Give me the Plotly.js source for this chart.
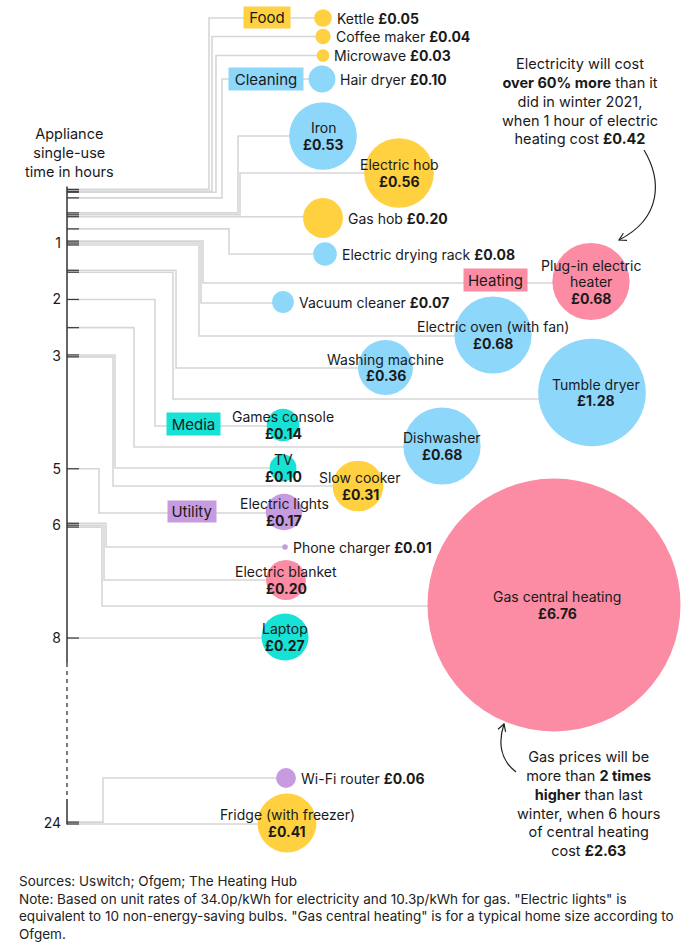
<!DOCTYPE html>
<html><head><meta charset="utf-8">
<script src="https://cdn.plot.ly/plotly-3.0.1.min.js"></script>
<style>html,body{margin:0;padding:0;background:#fff}</style>
</head><body><div id="chart" style="width:700px;height:952px"></div>
<script>
// ---------------- DATA ----------------
const appliances = ["Kettle","Coffee maker","Microwave","Hair dryer","Iron","Electric hob","Gas hob","Electric drying rack","Plug-in electric heater","Vacuum cleaner","Electric oven (with fan)","Washing machine","Tumble dryer","Games console","Dishwasher","TV","Slow cooker","Electric lights","Phone charger","Electric blanket","Gas central heating","Laptop","Wi-Fi router","Fridge (with freezer)"];
const categories = ["Food","Food","Food","Cleaning","Cleaning","Food","Food","Cleaning","Heating","Cleaning","Cleaning","Cleaning","Cleaning","Media","Cleaning","Media","Food","Utility","Utility","Heating","Heating","Media","Utility","Food"];
const hours = [0.05,0.083,0.1,0.2,0.5,0.5,0.5,0.75,1,1,1,1.5,1.5,2,2.5,3,3,5,6,6,6,8,24,24];
const costs = [0.05,0.04,0.03,0.10,0.53,0.56,0.20,0.08,0.68,0.07,0.68,0.36,1.28,0.14,0.68,0.10,0.31,0.17,0.01,0.20,6.76,0.27,0.06,0.41];
const hourTicks = [1,2,3,5,6,8,24];
const hourTickLabels = ["1","2","3","5","6","8","24"];
const categoryNames = ["Food","Cleaning","Heating","Media","Utility"];

// ---------------- LAYOUT / STYLE ----------------
const W = 700, H = 952;
const FONT = 'Inter, "Liberation Sans", Arial, sans-serif';
const TXT = '#1a1a1a';
const catColors = {Food:'#ffd040', Cleaning:'#8dd7fa', Heating:'#fb8ca3', Media:'#17e2d6', Utility:'#c79bdf'};
// bubble placement (packed layout, pixels)
const bubbleX = [323,323,323,322,323,399,323,325,591,283,493,385.5,592,283,442,283,358,284,285,286,554,285,286,287];
const bubbleY = [18,36.5,55.5,79,136,173,218,254,281.5,302,335,367.5,392.5,425,446,468,486,512,547,580,605,637,778,823];
const connectY = [18,36.5,55.5,79,136,173,218,254,283,303,336,368,399,426,447,468,486,513,547,580,606,637,778,823];
const elbowX  = [209,212,216,222,238,240,323,229,203,201,199,176,173,155,134,115,113,99,106,104,102,285,103,287];
const labelSide = [1,1,1,1,0,0,1,1,0,1,0,0,0,0,0,0,0,0,1,0,0,0,1,0];
const labelBreaks = {"Plug-in electric heater":"Plug-in electric\nheater"};
const labelDX = {"Tumble dryer":4, "Slow cooker":2, "Gas central heating":3};
// category tag boxes
const catBoxX = [267,266,495.5,193.5,192];
const catBoxY = [17.5,79,280,424,511];
const catBoxW = [46,74,63,53,48];
const catBoxH = [21,22,22,22,21];

// hours axis scale (with a break between 8 and 24)
const Y0PX = 186.6, PXPERH = 56.43, AXIS_X = 67, TICK_END = 79;
const toAxis = px => (px - Y0PX) / PXPERH;
const axisBreak = h => h <= 8 ? h : 8 + (h - 8) * 0.2049;

const tickY = hours.map((h, i) => {
  const same = [];
  hours.forEach((v, j) => { if (v === h) same.push(j); });
  const k = same.indexOf(i), n = same.length;
  return axisBreak(h) + (k - (n - 1) / 2) * 1.9 / PXPERH;
});
const radius = costs.map(c => Math.max(1.2, 49.5 * Math.sqrt(c) - 2.2));

// ---------------- TRACES ----------------
const cx = [], cy = [], tx = [], ty = [];
appliances.forEach((n, i) => {
  cx.push(AXIS_X, elbowX[i], elbowX[i], bubbleX[i], null);
  cy.push(tickY[i], tickY[i], toAxis(connectY[i]), toAxis(connectY[i]), null);
  tx.push(AXIS_X, TICK_END, null);
  ty.push(tickY[i], tickY[i], null);
});
const traces = [
  {type:'scatter', mode:'lines', x:cx, y:cy, line:{color:'#d6d6d6', width:1.6}, hoverinfo:'skip', connectgaps:false},
  {type:'scatter', mode:'lines', x:tx, y:ty, line:{color:'#3a3a3a', width:1.2}, hoverinfo:'skip', connectgaps:false},
  {type:'scatter', mode:'lines', x:[AXIS_X,AXIS_X], y:[0, toAxis(663)], line:{color:'#333', width:1.5}, hoverinfo:'skip'},
  {type:'scatter', mode:'lines', x:[AXIS_X,AXIS_X], y:[toAxis(663), toAxis(799)], line:{color:'#333', width:1.3, dash:'4px,4px'}, hoverinfo:'skip'},
  {type:'scatter', mode:'lines', x:[AXIS_X,AXIS_X], y:[toAxis(799), axisBreak(24) + 1.5/PXPERH], line:{color:'#333', width:1.5}, hoverinfo:'skip'},
  {type:'scatter', mode:'markers', x:bubbleX, y:bubbleY.map(toAxis),
   marker:{size:radius.map(r => 2*r), sizemode:'diameter', color:categories.map(c => catColors[c]), line:{width:0}, opacity:1},
   text:appliances, hoverinfo:'text'}
];

// ---------------- ANNOTATIONS ----------------
const ann = [];
appliances.forEach((name, i) => {
  const val = '<b>£' + costs[i].toFixed(2) + '</b>';
  if (labelSide[i]) {
    ann.push({x:bubbleX[i] + radius[i] + 3, y:toAxis(bubbleY[i]), xref:'x', yref:'y', xanchor:'left', yanchor:'middle',
      text:name + ' ' + val, showarrow:false, font:{size:14, color:TXT, family:FONT}});
  } else {
    const lines = (labelBreaks[name] || name).split('\n').concat([val]);
    lines.forEach((t, k) => ann.push({x:bubbleX[i] + (labelDX[name] || 0), y:toAxis(bubbleY[i] + (k - (lines.length - 1) / 2) * 16.5),
      xref:'x', yref:'y', xanchor:'center', yanchor:'middle', text:t, showarrow:false, font:{size:14, color:TXT, family:FONT}}));
  }
});
categoryNames.forEach((c, i) => ann.push({x:catBoxX[i], y:toAxis(catBoxY[i]), xref:'x', yref:'y', text:c, showarrow:false,
  bgcolor:catColors[c], borderpad:0, width:catBoxW[i], height:catBoxH[i], align:'center', valign:'middle',
  font:{size:15, color:TXT, family:FONT}}));
ann.push({x:69, y:toAxis(152.5), xref:'x', yref:'y', text:'Appliance<br>single-use<br>time in hours', showarrow:false,
  font:{size:14.5, color:TXT, family:FONT}});
ann.push({x:580, y:toAxis(101.5), xref:'x', yref:'y', showarrow:false, align:'center',
  text:'Electricity will cost<br><b>over 60% more</b> than it<br>did in winter 2021,<br>when 1 hour of electric<br>heating cost <b>£0.42</b>',
  font:{size:14.5, color:TXT, family:FONT}});
ann.push({x:588, y:toAxis(803), xref:'x', yref:'y', showarrow:false, align:'center',
  text:'Gas prices will be<br>more than <b>2 times<br>higher</b> than last<br>winter, when 6 hours<br>of central heating<br>cost <b>£2.63</b>',
  font:{size:14.5, color:TXT, family:FONT}});
ann.push({x:17, y:toAxis(907.5), xref:'x', yref:'y', xanchor:'left', yanchor:'middle', showarrow:false, align:'left',
  text:'Sources: Uswitch; Ofgem; The Heating Hub<br>Note: Based on unit rates of 34.0p/kWh for electricity and 10.3p/kWh for gas. "Electric lights" is<br>equivalent to 10 non-energy-saving bulbs. "Gas central heating" is for a typical home size according to<br>Ofgem.',
  font:{size:13.5, color:'#222', family:FONT}});

// ---------------- CURVED ARROWS ----------------
const pt = (x, y) => x + ',' + (1 - y / H).toFixed(5);
function arrowShapes(p0, c1, c2, p1) {
  const dx = p1[0] - c2[0], dy = p1[1] - c2[1], L = Math.hypot(dx, dy);
  const ux = dx / L, uy = dy / L, len = 8, a = Math.PI / 6;
  const rot = (s) => [p1[0] - len * (ux * Math.cos(s) - uy * Math.sin(s)), p1[1] - len * (ux * Math.sin(s) + uy * Math.cos(s))];
  const h1 = rot(a), h2 = rot(-a);
  return [
    {type:'path', xref:'x', yref:'paper', line:{color:'#222', width:1.2},
     path:'M' + pt(...p0) + ' C' + pt(...c1) + ' ' + pt(...c2) + ' ' + pt(...p1)},
    {type:'path', xref:'x', yref:'paper', line:{color:'#222', width:1.2},
     path:'M' + pt(...h1) + ' L' + pt(...p1) + ' L' + pt(...h2)}
  ];
}
const shapes = [].concat(
  arrowShapes([644,150],[662,180],[662,218],[619,240]),
  arrowShapes([516,772],[500,760],[498,742],[504,724])
);

const layout = {
  width:W, height:H, margin:{l:0, r:0, t:0, b:0}, paper_bgcolor:'#fff', plot_bgcolor:'#fff',
  showlegend:false, hovermode:'closest', font:{family:FONT, color:TXT},
  xaxis:{range:[0, W], visible:false, fixedrange:true},
  yaxis:{range:[(H - Y0PX) / PXPERH, -Y0PX / PXPERH], anchor:'free', position:AXIS_X / W, fixedrange:true,
    showgrid:false, zeroline:false, showline:false, ticks:'',
    tickvals:hourTicks.map(axisBreak), ticktext:hourTickLabels, ticklabelstandoff:6,
    tickfont:{size:14, color:TXT, family:FONT}},
  annotations:ann, shapes:shapes
};
Plotly.newPlot('chart', traces, layout, {displayModeBar:false, staticPlot:true});
</script></body></html>
